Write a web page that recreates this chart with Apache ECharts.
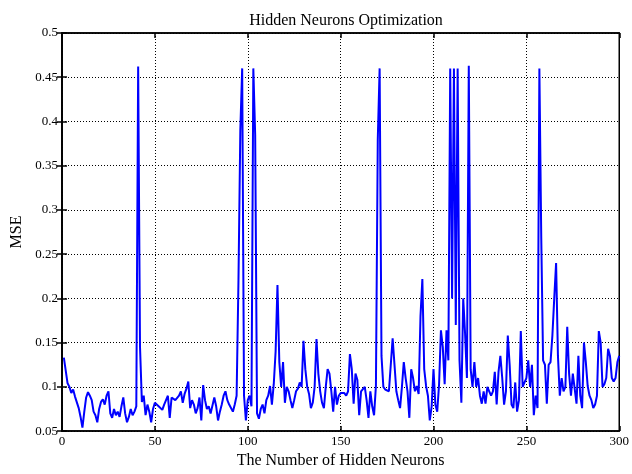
<!DOCTYPE html>
<html>
<head>
<meta charset="utf-8">
<script src="https://cdn.jsdelivr.net/npm/echarts@6/dist/echarts.min.js"></script>
<style>html,body{margin:0;padding:0;background:#fff}#c{width:632px;height:474px}</style>
</head>
<body>
<div id="c"></div>
<script>
var xTicks = [0, 50, 100, 150, 200, 250, 300];
var yTicks = [0.05, 0.1, 0.15, 0.2, 0.25, 0.3, 0.35, 0.4, 0.45, 0.5];
var neurons = [];
for (var i = 1; i <= 300; i++) neurons.push(i);
var mse = [
0.133,0.132,0.104,0.100,0.093,0.097,0.089,0.091,0.076,0.066,
0.054,0.072,0.088,0.094,0.090,0.085,0.072,0.068,0.060,0.075,
0.083,0.086,0.080,0.090,0.095,0.070,0.065,0.075,0.068,0.072,
0.066,0.078,0.088,0.070,0.060,0.066,0.075,0.068,0.072,0.078,
0.462,0.145,0.083,0.090,0.068,0.080,0.072,0.060,0.075,0.082,
0.080,0.078,0.076,0.074,0.080,0.085,0.090,0.065,0.088,0.090,
0.085,0.083,0.090,0.095,0.082,0.092,0.098,0.106,0.076,0.085,
0.080,0.070,0.076,0.088,0.062,0.102,0.085,0.075,0.078,0.070,
0.072,0.088,0.078,0.062,0.072,0.080,0.090,0.095,0.085,0.080,
0.078,0.072,0.080,0.090,0.220,0.390,0.460,0.090,0.062,0.085,
0.090,0.078,0.460,0.385,0.070,0.064,0.075,0.080,0.070,0.085,
0.090,0.101,0.080,0.103,0.140,0.215,0.128,0.100,0.128,0.082,
0.100,0.095,0.085,0.076,0.085,0.095,0.098,0.105,0.100,0.152,
0.120,0.100,0.092,0.076,0.082,0.100,0.154,0.115,0.095,0.082,
0.076,0.100,0.120,0.115,0.095,0.072,0.100,0.080,0.090,0.093,
0.092,0.093,0.090,0.095,0.137,0.120,0.081,0.115,0.108,0.068,
0.095,0.093,0.100,0.085,0.065,0.095,0.078,0.068,0.101,0.380,
0.460,0.135,0.100,0.097,0.098,0.095,0.093,0.155,0.125,0.095,
0.085,0.076,0.100,0.128,0.110,0.095,0.065,0.120,0.110,0.095,
0.101,0.092,0.180,0.222,0.120,0.101,0.090,0.062,0.078,0.120,
0.080,0.072,0.103,0.164,0.145,0.103,0.164,0.130,0.460,0.200,
0.460,0.170,0.460,0.130,0.082,0.200,0.160,0.110,0.463,0.120,
0.100,0.128,0.100,0.110,0.090,0.081,0.095,0.081,0.100,0.095,
0.090,0.095,0.117,0.080,0.117,0.135,0.110,0.080,0.095,0.158,
0.125,0.080,0.076,0.105,0.072,0.085,0.163,0.100,0.105,0.110,
0.130,0.100,0.125,0.068,0.090,0.076,0.460,0.270,0.130,0.125,
0.081,0.125,0.128,0.158,0.200,0.240,0.135,0.090,0.110,0.095,
0.100,0.168,0.115,0.090,0.115,0.098,0.081,0.135,0.090,0.076,
0.150,0.128,0.101,0.090,0.085,0.076,0.080,0.090,0.163,0.150,
0.100,0.103,0.110,0.143,0.135,0.110,0.106,0.110,0.128,0.135
];
var titleText = 'Hidden Neurons Optimization';
var xName = 'The Number of Hidden Neurons';
var yName = 'MSE';

var FONT = 'Liberation Serif';
var seriesData = neurons.map(function (n, i) { return [n, mse[i]]; });
var chart = echarts.init(document.getElementById('c'), null, {renderer: 'canvas'});
function fmtY(v) { return String(Math.round(v * 100) / 100); }
var tickStyle = {show: true, inside: true, length: 5, lineStyle: {color: '#000', width: 1.5}};
chart.setOption({
  animation: false,
  backgroundColor: '#fff',
  title: {
    text: titleText, left: 341, top: 8, textAlign: 'center',
    textStyle: {fontFamily: FONT, fontSize: 16, fontWeight: 'normal', color: '#000'}
  },
  grid: {left: 62, right: 12, top: 33, bottom: 37, show: true, borderColor: '#000', borderWidth: 1.5, backgroundColor: '#fff'},
  xAxis: [{
    type: 'value', min: xTicks[0], max: xTicks[xTicks.length - 1], interval: 50,
    name: xName, nameLocation: 'middle', nameGap: 20,
    nameTextStyle: {fontFamily: FONT, fontSize: 16, color: '#000'},
    axisLine: {show: true, lineStyle: {color: '#000', width: 1.5}},
    axisTick: tickStyle,
    axisLabel: {fontFamily: FONT, fontSize: 13, color: '#000', margin: 4},
    splitLine: {show: true, lineStyle: {color: '#000', type: [1, 2], width: 1}}
  }, {
    type: 'value', position: 'top', min: xTicks[0], max: xTicks[xTicks.length - 1], interval: 50,
    axisLine: {show: true, lineStyle: {color: '#000', width: 1.5}},
    axisTick: tickStyle, axisLabel: {show: false}, splitLine: {show: false}
  }],
  yAxis: [{
    type: 'value', min: yTicks[0], max: yTicks[yTicks.length - 1], interval: 0.05,
    name: yName, nameLocation: 'middle', nameGap: 37,
    nameTextStyle: {fontFamily: FONT, fontSize: 16, color: '#000'},
    axisLine: {show: true, lineStyle: {color: '#000', width: 1.5}},
    axisTick: tickStyle,
    axisLabel: {fontFamily: FONT, fontSize: 13, color: '#000', margin: 4, formatter: fmtY},
    splitLine: {show: true, lineStyle: {color: '#000', type: [1, 2], width: 1}}
  }, {
    type: 'value', position: 'right', min: yTicks[0], max: yTicks[yTicks.length - 1], interval: 0.05,
    axisLine: {show: true, lineStyle: {color: '#000', width: 1.5}},
    axisTick: tickStyle, axisLabel: {show: false}, splitLine: {show: false}
  }],
  series: [{
    type: 'line', data: seriesData, xAxisIndex: 0, yAxisIndex: 0,
    showSymbol: false, symbol: 'none',
    lineStyle: {color: '#0000ff', width: 2},
    z: 3
  }]
});
</script>
</body>
</html>
